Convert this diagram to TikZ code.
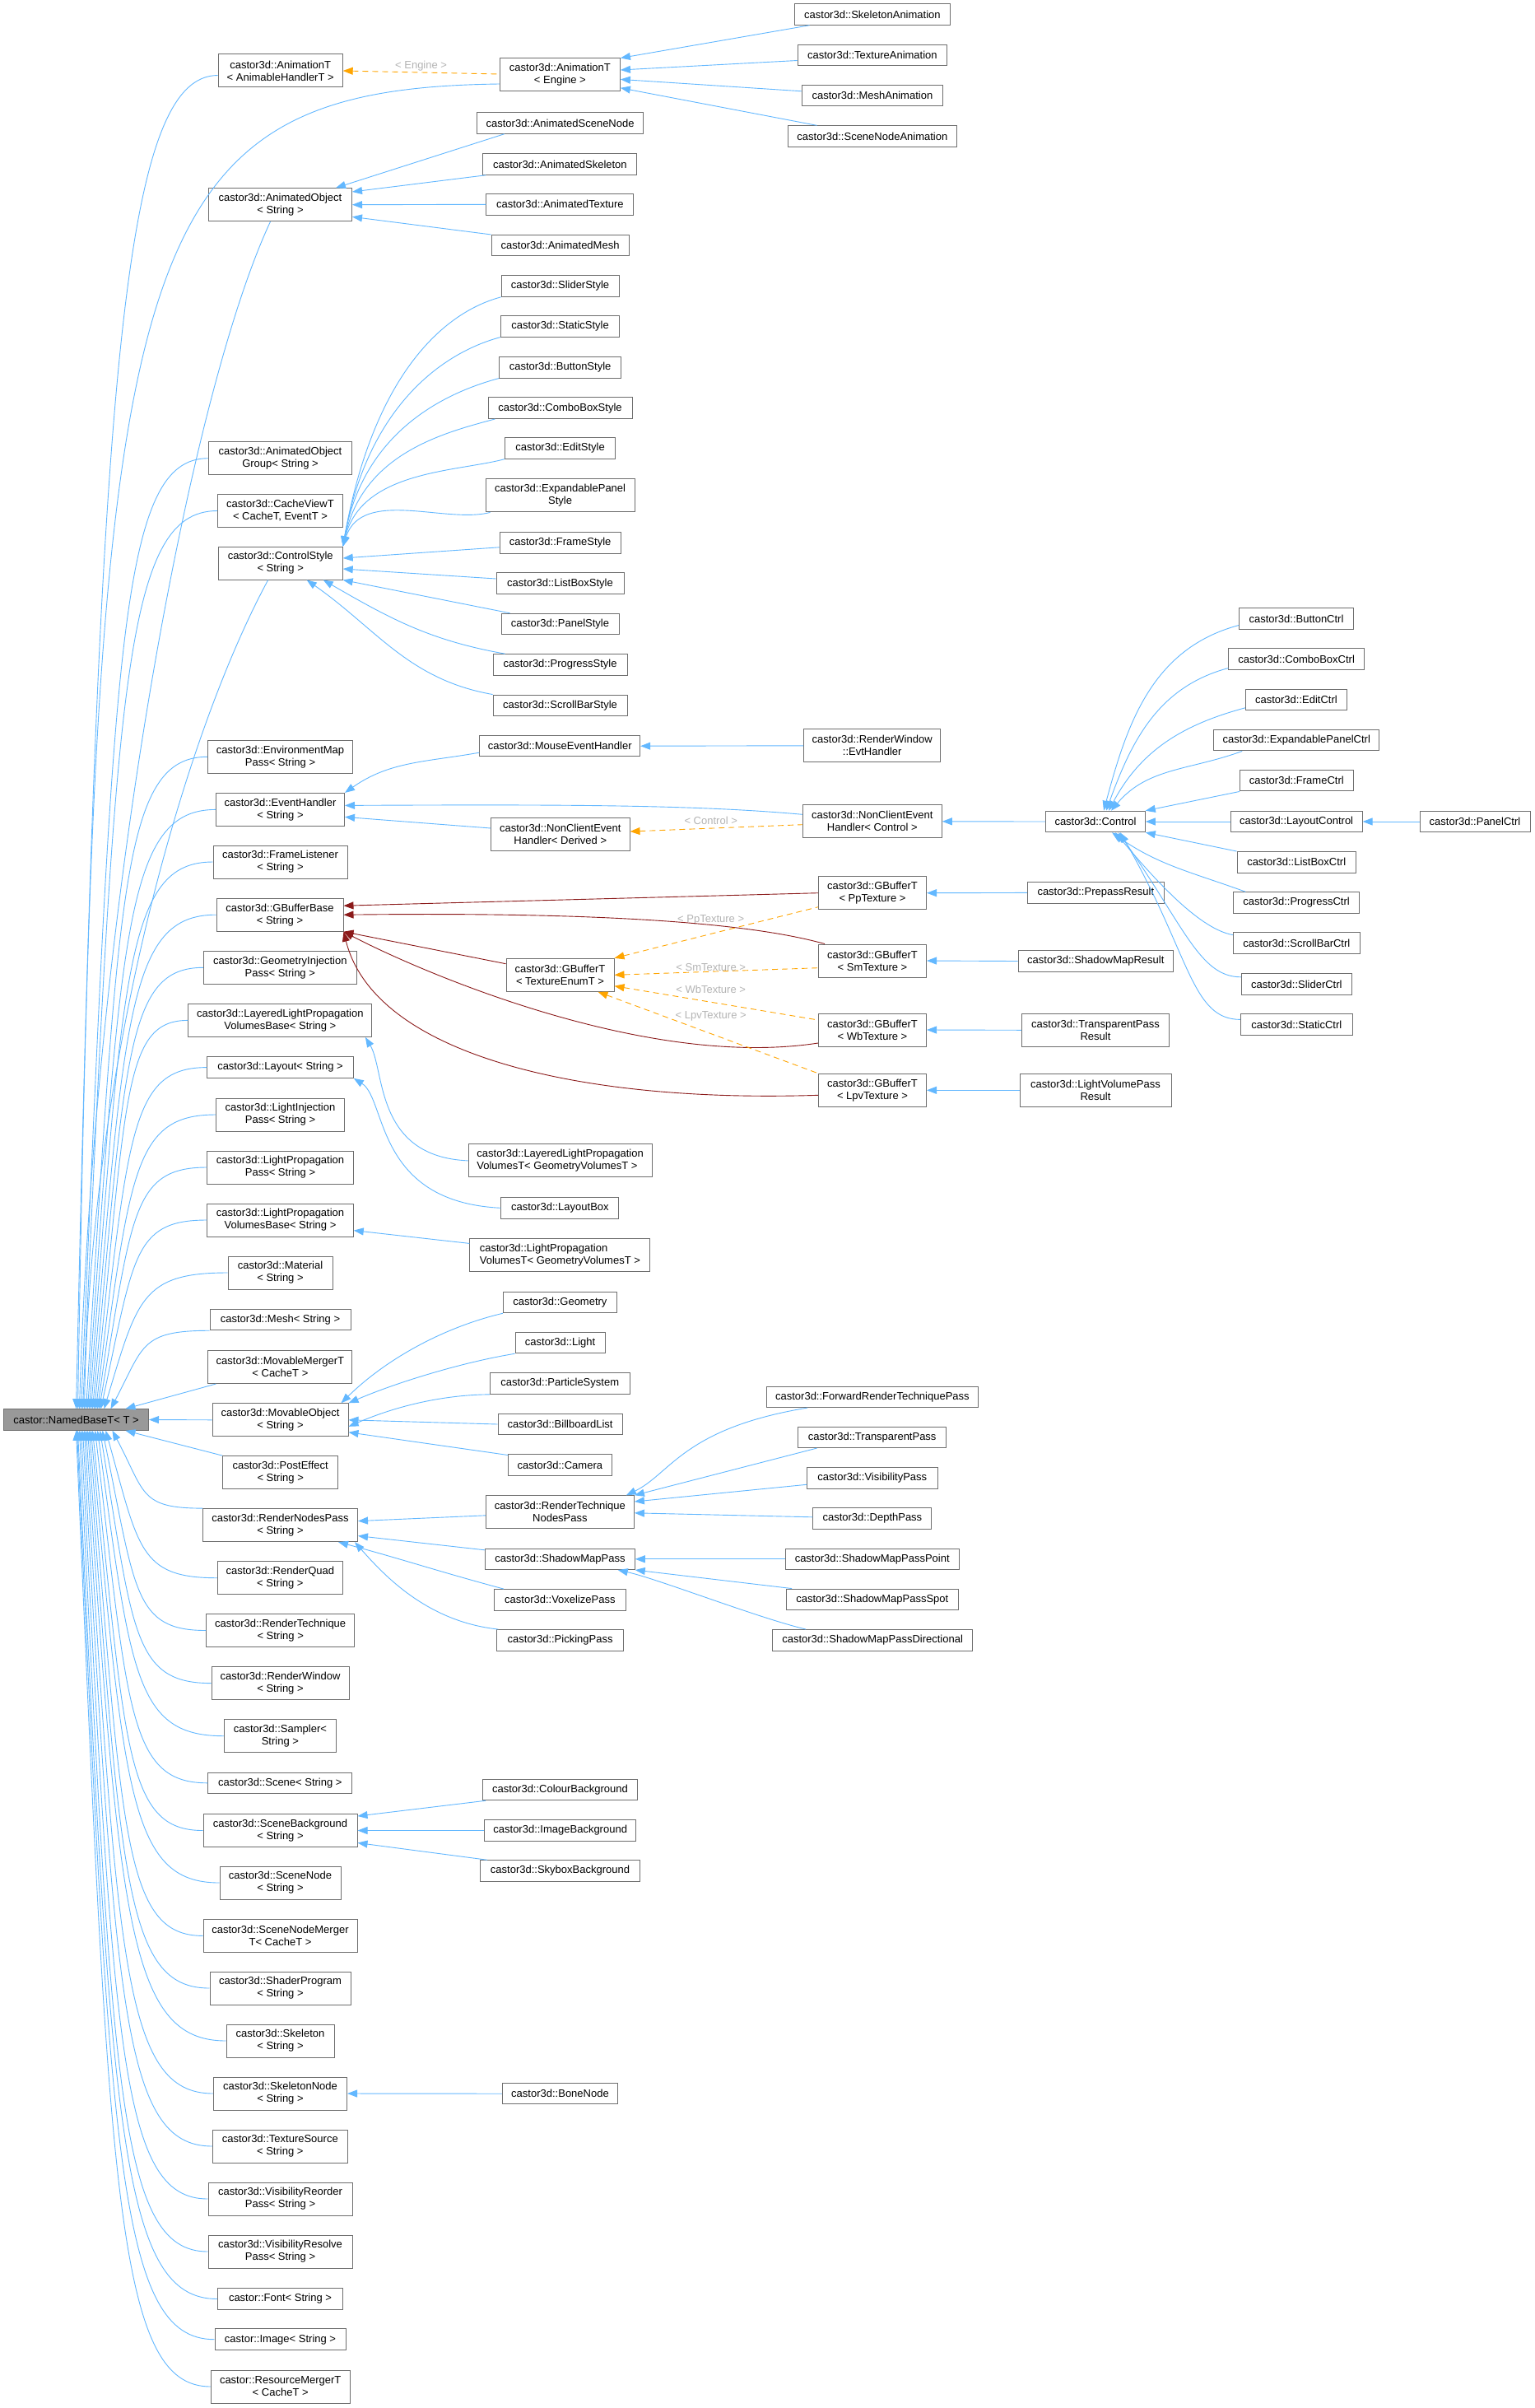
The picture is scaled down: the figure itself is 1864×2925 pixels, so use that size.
\documentclass[tikz,border=0pt]{standalone}
\usepackage{fontspec}
\setmainfont{Liberation Sans}
\usetikzlibrary{arrows.meta,calc}
\definecolor{eblue}{HTML}{63B8FF}
\definecolor{ered}{HTML}{8B1A1A}
\definecolor{eorange}{HTML}{FFA500}
\definecolor{nborder}{HTML}{6E6E6E}
\definecolor{rootfill}{HTML}{999999}
\definecolor{lblgrey}{HTML}{B4B4B4}
\newcommand\nf{\fontsize{13}{15}\selectfont}
\newcommand\redge[3][40]{\draw[inh] (#2) .. controls ($(#2)!0.8!(#2 |- #3)+(#1,0)$) and ($(#2 |- #3)!0.3!(#3)$) .. (#3);}
\begin{document}
\begin{tikzpicture}[x=1pt,y=1pt,
  box/.style={draw=nborder, line width=1pt, fill=white, inner sep=0pt, font=\nf, align=center, minimum height=25.5pt},
  two/.style={minimum height=40pt},
  inh/.style={draw=eblue, line width=0.9pt, {Triangle[length=12pt,width=9pt]}-},
  inr/.style={draw=ered, line width=0.9pt, {Triangle[length=12pt,width=9pt]}-},
  tmpl/.style={draw=eorange, line width=0.9pt, dash pattern=on 7pt off 5pt, {Triangle[length=12pt,width=9pt]}-},
  lbl/.style={text=lblgrey, font=\nf, inner sep=0pt}]
\fill[white] (0,0) rectangle (1864,-2925);
\useasboundingbox (0,0) rectangle (1864,-2925);

% ---------- root ----------
\node[box, fill=rootfill, minimum width=176pt] (root) at (92.5,-1724.5) {castor::NamedBaseT< T >};

% ---------- level 1 ----------
\node[box,two,minimum width=151pt] (aht) at (340.7,-86) {castor3d::AnimationT\\< AnimableHandlerT >};
\node[box,two,minimum width=174pt] (ao) at (340.5,-248.7) {castor3d::AnimatedObject\\< String >};
\node[box,two,minimum width=174pt] (aog) at (340.5,-556.7) {castor3d::AnimatedObject\\Group< String >};
\node[box,two,minimum width=152pt] (cv) at (340.5,-620.5) {castor3d::CacheViewT\\< CacheT, EventT >};
\node[box,two,minimum width=151pt] (cs) at (340.7,-684) {castor3d::ControlStyle\\< String >};
\node[box,two,minimum width=176pt] (emp) at (340.5,-919.3) {castor3d::EnvironmentMap\\Pass< String >};
\node[box,two,minimum width=156pt] (eh) at (340.5,-983.4) {castor3d::EventHandler\\< String >};
\node[box,two,minimum width=163pt] (fl) at (340.5,-1047) {castor3d::FrameListener\\< String >};
\node[box,two,minimum width=154pt] (gbb) at (340,-1111.2) {castor3d::GBufferBase\\< String >};
\node[box,two,minimum width=186pt] (gip) at (340.3,-1175.3) {castor3d::GeometryInjection\\Pass< String >};
\node[box,two,minimum width=223pt] (llpvb) at (340.4,-1239.4) {castor3d::LayeredLightPropagation\\VolumesBase< String >};
\node[box,minimum width=177.5pt] (lay) at (340.5,-1296.6) {castor3d::Layout< String >};
\node[box,two,minimum width=156pt] (lip) at (340.5,-1354) {castor3d::LightInjection\\Pass< String >};
\node[box,two,minimum width=177.5pt] (lpp) at (340.5,-1418) {castor3d::LightPropagation\\Pass< String >};
\node[box,two,minimum width=177.5pt] (lpvb) at (340.5,-1482) {castor3d::LightPropagation\\VolumesBase< String >};
\node[box,two,minimum width=127pt] (mat) at (340.5,-1546) {castor3d::Material\\< String >};
\node[box,minimum width=171pt] (mesh) at (340.5,-1603) {castor3d::Mesh< String >};
\node[box,two,minimum width=175pt] (mm) at (340.4,-1660.5) {castor3d::MovableMergerT\\< CacheT >};
\node[box,two,minimum width=165pt] (mo) at (340.5,-1724.8) {castor3d::MovableObject\\< String >};
\node[box,two,minimum width=140pt] (pe) at (340.7,-1788.6) {castor3d::PostEffect\\< String >};
\node[box,two,minimum width=188pt] (rnp) at (340.5,-1852.6) {castor3d::RenderNodesPass\\< String >};
\node[box,two,minimum width=152pt] (rq) at (340.4,-1916.7) {castor3d::RenderQuad\\< String >};
\node[box,two,minimum width=180pt] (rt) at (340.7,-1980.5) {castor3d::RenderTechnique\\< String >};
\node[box,two,minimum width=167pt] (rw) at (340.5,-2044.6) {castor3d::RenderWindow\\< String >};
\node[box,two,minimum width=136pt] (smp) at (340.4,-2108.7) {castor3d::Sampler<\\String >};
\node[box,minimum width=175pt] (sc) at (340.4,-2165.8) {castor3d::Scene< String >};
\node[box,two,minimum width=187pt] (sb) at (340.5,-2223.5) {castor3d::SceneBackground\\< String >};
\node[box,two,minimum width=147pt] (sn) at (340.5,-2287) {castor3d::SceneNode\\< String >};
\node[box,two,minimum width=187pt] (snm) at (340.5,-2351.4) {castor3d::SceneNodeMerger\\T< CacheT >};
\node[box,two,minimum width=171pt] (sp) at (340.5,-2415) {castor3d::ShaderProgram\\< String >};
\node[box,two,minimum width=131pt] (sk) at (340.5,-2479) {castor3d::Skeleton\\< String >};
\node[box,two,minimum width=162pt] (skn) at (340.5,-2543) {castor3d::SkeletonNode\\< String >};
\node[box,two,minimum width=164pt] (ts) at (340.3,-2607) {castor3d::TextureSource\\< String >};
\node[box,two,minimum width=175pt] (vrp) at (340.5,-2671) {castor3d::VisibilityReorder\\Pass< String >};
\node[box,two,minimum width=175pt] (vsp) at (340.5,-2735) {castor3d::VisibilityResolve\\Pass< String >};
\node[box,minimum width=152pt] (font) at (340.5,-2792.5) {castor::Font< String >};
\node[box,minimum width=159pt] (img) at (340.5,-2841.7) {castor::Image< String >};
\node[box,two,minimum width=168.6pt] (rm) at (340.7,-2899) {castor::ResourceMergerT\\< CacheT >};

% ---------- level 2 ----------
\node[box,two,minimum width=146pt] (ae) at (680.4,-91) {castor3d::AnimationT\\< Engine >};
\node[box,minimum width=202.7pt] (asn) at (680.6,-149.5) {castor3d::AnimatedSceneNode};
\node[box,minimum width=187pt] (ask) at (680.4,-199.5) {castor3d::AnimatedSkeleton};
\node[box,minimum width=179pt] (atx) at (680.4,-248.3) {castor3d::AnimatedTexture};
\node[box,minimum width=167pt] (am) at (680.6,-298.2) {castor3d::AnimatedMesh};
\node[box,minimum width=143pt] (slst) at (680.6,-347.6) {castor3d::SliderStyle};
\node[box,minimum width=144.6pt] (stst) at (680.6,-396.4) {castor3d::StaticStyle};
\node[box,minimum width=148pt] (btst) at (680.6,-446.3) {castor3d::ButtonStyle};
\node[box,minimum width=175pt] (cbst) at (680.5,-495.7) {castor3d::ComboBoxStyle};
\node[box,minimum width=134pt] (edst) at (680.6,-544.4) {castor3d::EditStyle};
\node[box,two,minimum width=181pt] (epst) at (680.6,-601.9) {castor3d::ExpandablePanel\\Style};
\node[box,minimum width=147pt] (frst) at (680.6,-659.3) {castor3d::FrameStyle};
\node[box,minimum width=155pt] (lbst) at (680.5,-708.7) {castor3d::ListBoxStyle};
\node[box,minimum width=143pt] (pnst) at (680.5,-758) {castor3d::PanelStyle};
\node[box,minimum width=163pt] (prst) at (680.6,-807.4) {castor3d::ProgressStyle};
\node[box,minimum width=163pt] (sbst) at (680.6,-856.8) {castor3d::ScrollBarStyle};
\node[box,minimum width=195pt] (meh) at (680.2,-906.2) {castor3d::MouseEventHandler};
\node[box,two,minimum width=168.5pt] (ncd) at (680.8,-1013.8) {castor3d::NonClientEvent\\Handler< Derived >};
\node[box,two,minimum width=131pt] (gbt) at (680.5,-1184.3) {castor3d::GBufferT\\< TextureEnumT >};
\node[box,two,minimum width=223pt,align=left] (llpvt) at (680.6,-1409.9) {castor3d::LayeredLightPropagation\\VolumesT< GeometryVolumesT >};
\node[box,minimum width=143pt] (lbox) at (680.4,-1467.3) {castor3d::LayoutBox};
\node[box,two,minimum width=219pt,align=left] (lpvt) at (680.4,-1524.4) {castor3d::LightPropagation\\VolumesT< GeometryVolumesT >};
\node[box,minimum width=138pt] (geo) at (680.4,-1582) {castor3d::Geometry};
\node[box,minimum width=109pt] (lgt) at (680.6,-1631) {castor3d::Light};
\node[box,minimum width=169.6pt] (ps) at (680.2,-1680.6) {castor3d::ParticleSystem};
\node[box,minimum width=151pt] (bl) at (680.6,-1730) {castor3d::BillboardList};
\node[box,minimum width=125.4pt] (cam) at (680.4,-1779.5) {castor3d::Camera};
\node[box,two,minimum width=180pt] (rtnp) at (680.4,-1836.8) {castor3d::RenderTechnique\\NodesPass};
\node[box,minimum width=181.7pt] (smp2) at (680.4,-1893.8) {castor3d::ShadowMapPass};
\node[box,minimum width=160pt] (vxp) at (680.4,-1943.3) {castor3d::VoxelizePass};
\node[box,minimum width=153.6pt] (pkp) at (680.6,-1992.3) {castor3d::PickingPass};
\node[box,minimum width=187.4pt] (cbg) at (680.5,-2174) {castor3d::ColourBackground};
\node[box,minimum width=184pt] (ibg) at (680.7,-2223.5) {castor3d::ImageBackground};
\node[box,minimum width=193.8pt] (sbg) at (680.5,-2272.5) {castor3d::SkyboxBackground};
\node[box,minimum width=140.5pt] (bone) at (680.5,-2543.2) {castor3d::BoneNode};

% ---------- level 3 ----------
\node[box,minimum width=189.7pt] (skan) at (1059.9,-17.5) {castor3d::SkeletonAnimation};
\node[box,minimum width=181.7pt] (txan) at (1059.9,-67.2) {castor3d::TextureAnimation};
\node[box,minimum width=171pt] (mean) at (1059.9,-116.2) {castor3d::MeshAnimation};
\node[box,minimum width=205.8pt] (snan) at (1059.9,-165.6) {castor3d::SceneNodeAnimation};
\node[box,two,minimum width=166pt] (rweh) at (1059.7,-905.8) {castor3d::RenderWindow\\::EvtHandler};
\node[box,two,minimum width=169pt] (ncc) at (1059.8,-997.8) {castor3d::NonClientEvent\\Handler< Control >};
\node[box,two,minimum width=131pt] (gpp) at (1060,-1084.7) {castor3d::GBufferT\\< PpTexture >};
\node[box,two,minimum width=131pt] (gsm) at (1060,-1167) {castor3d::GBufferT\\< SmTexture >};
\node[box,two,minimum width=131pt] (gwb) at (1060,-1251) {castor3d::GBufferT\\< WbTexture >};
\node[box,two,minimum width=131pt] (glpv) at (1060,-1324.3) {castor3d::GBufferT\\< LpvTexture >};
\node[box,minimum width=256.7pt] (frtp) at (1059.9,-1696.8) {castor3d::ForwardRenderTechniquePass};
\node[box,minimum width=179.5pt] (trp) at (1059.7,-1745.8) {castor3d::TransparentPass};
\node[box,minimum width=158.5pt] (vip) at (1059.8,-1795.3) {castor3d::VisibilityPass};
\node[box,minimum width=144pt] (dep) at (1059.9,-1844.3) {castor3d::DepthPass};
\node[box,minimum width=210.7pt] (smpp) at (1059.7,-1893.8) {castor3d::ShadowMapPassPoint};
\node[box,minimum width=208.5pt] (smps) at (1059.8,-1942.8) {castor3d::ShadowMapPassSpot};
\node[box,minimum width=243pt] (smpd) at (1060.1,-1992.3) {castor3d::ShadowMapPassDirectional};

% ---------- level 4 ----------
\node[box,minimum width=120.6pt] (ctl) at (1331,-998) {castor3d::Control};
\node[box,minimum width=165.7pt] (ppr) at (1331.3,-1084.4) {castor3d::PrepassResult};
\node[box,minimum width=188.5pt] (smr) at (1331.3,-1167.5) {castor3d::ShadowMapResult};
\node[box,two,minimum width=179pt] (tpr) at (1331,-1251.3) {castor3d::TransparentPass\\Result};
\node[box,two,minimum width=184pt] (lvr) at (1331,-1324.3) {castor3d::LightVolumePass\\Result};

% ---------- level 5 ----------
\node[box,minimum width=139pt] (btc) at (1575,-751.5) {castor3d::ButtonCtrl};
\node[box,minimum width=164.4pt] (cbc) at (1575.1,-800.5) {castor3d::ComboBoxCtrl};
\node[box,minimum width=123pt] (edc) at (1574.9,-849.8) {castor3d::EditCtrl};
\node[box,minimum width=201.3pt] (epc) at (1575.3,-899.2) {castor3d::ExpandablePanelCtrl};
\node[box,minimum width=137.5pt] (frc) at (1575.3,-948.2) {castor3d::FrameCtrl};
\node[box,minimum width=160pt] (lyc) at (1575.1,-998) {castor3d::LayoutControl};
\node[box,minimum width=144.4pt] (lbc) at (1575.2,-1047.3) {castor3d::ListBoxCtrl};
\node[box,minimum width=152.6pt] (prc) at (1575.1,-1096.5) {castor3d::ProgressCtrl};
\node[box,minimum width=154pt] (sbc) at (1575.3,-1145.6) {castor3d::ScrollBarCtrl};
\node[box,minimum width=134pt] (slc) at (1575.3,-1195.4) {castor3d::SliderCtrl};
\node[box,minimum width=135.7pt] (stc) at (1575.3,-1244.4) {castor3d::StaticCtrl};
\node[box,minimum width=134pt] (pnc) at (1792,-998) {castor3d::PanelCtrl};

% ---------- labels ----------
\node[lbl] (l-eng) at (511.6,-80.4) {< Engine >};
\node[lbl] (l-ctl) at (863.7,-996.7) {< Control >};
\node[lbl] (l-pp) at (863.7,-1117.3) {< PpTexture >};
\node[lbl] (l-sm) at (863.7,-1174.7) {< SmTexture >};
\node[lbl] (l-wb) at (863.7,-1201.7) {< WbTexture >};
\node[lbl] (l-lpv) at (863.7,-1234.3) {< LpvTexture >};

% ---------- root edges ----------
\foreach \n/\o in {aht/0,ae/2,ao/4,aog/6,cv/8,cs/10,emp/12,eh/14,fl/16,gbb/18,gip/20,llpvb/22,lay/24,lip/26,lpp/28,lpvb/30,mat/34,mesh/42,mm/60}
  {\coordinate (r-\n) at ([xshift=\o pt]root.north);}
\foreach \n/\o in {pe/60,rnp/44,rq/36,rt/32,rw/29,smp/26,sc/23,sb/20,sn/18,snm/16,sp/14,sk/12,skn/10,ts/8,vrp/6,vsp/4,font/2,img/1,rm/0}
  {\coordinate (s-\n) at ([xshift=\o pt]root.south);}

\draw[inh] (r-aht) .. controls (120,-450) and (150,-92) .. ([yshift=-5.5pt]aht.west);
\draw[inh] (r-ae) .. controls (118,-300) and (150,-108) .. ([yshift=-11pt]ae.west);
\draw[inh] (r-ao) .. controls (115,-1100) and (230,-480) .. ([xshift=-12pt]ao.south);
\draw[inh] (r-cs) .. controls (110,-1300) and (220,-900) .. ([xshift=-15pt]cs.south);
\foreach \n in {aog,cv,emp,eh,fl,gbb,gip,llpvb,lay,lip,lpp,lpvb,mat} {\redge{r-\n}{\n.west}}
\redge{r-mesh}{mesh.south west}
\draw[inh] (r-mm) -- ([xshift=10pt]mm.south west);
\draw[inh] (root.east) -- (mo.west);
\draw[inh] (s-pe) -- (pe.north west);
\redge{s-rnp}{rnp.north west}
\foreach \n in {rq,rt,rw,smp,sc,sb,sn,snm,sp,sk,skn,ts,vrp,vsp,font,img,rm} {\redge{s-\n}{\n.west}}

% ---------- AnimationT ----------
\draw[tmpl] (aht.east) -- ([yshift=1pt]ae.west);
\draw[inh] (ae.north east) -- ([xshift=19pt]skan.south west);
\draw[inh] ([yshift=6pt]ae.east) -- ([yshift=-6.3pt]txan.west);
\draw[inh] ([yshift=-5.4pt]ae.east) -- ([yshift=5.4pt]mean.west);
\draw[inh] ([yshift=-15.8pt]ae.east) -- ([xshift=36pt]snan.north west);

% ---------- AnimatedObject ----------
\draw[inh] ([xshift=-20pt]ao.north east) -- ([xshift=34pt]asn.south west);
\draw[inh] ([yshift=15.7pt]ao.east) -- ([xshift=4pt]ask.south west);
\draw[inh] (ao.east) -- (atx.west);
\draw[inh] ([yshift=-14.7pt]ao.east) -- (am.north west);

% ---------- ControlStyle ----------
\draw[inh] (cs.north east) to[out=80,in=195,out distance=200pt,in distance=80pt] (slst.south west);
\draw[inh] (cs.north east) to[out=80,in=195,out distance=170pt,in distance=75pt] (stst.south west);
\draw[inh] (cs.north east) to[out=80,in=195,out distance=140pt,in distance=70pt] (btst.south west);
\draw[inh] (cs.north east) to[out=78,in=195,out distance=115pt,in distance=65pt] ([xshift=9pt]cbst.south west);
\draw[inh] (cs.north east) to[out=76,in=195,out distance=95pt,in distance=60pt] (edst.south west);
\draw[inh] (cs.north east) to[out=72,in=195,out distance=75pt,in distance=55pt] ([xshift=6pt]epst.south west);
\draw[inh] ([yshift=6pt]cs.east) -- ([yshift=-5.5pt]frst.west);
\draw[inh] ([yshift=-7pt]cs.east) -- ([yshift=5.7pt]lbst.west);
\draw[inh] (cs.south east) -- ([xshift=11pt]pnst.north west);
\draw[inh] ([xshift=52pt]cs.south) to[out=-30,in=170] ([xshift=15pt]prst.north west);
\draw[inh] ([xshift=32pt]cs.south) to[out=-35,in=170] (sbst.north west);

% ---------- EventHandler ----------
\draw[inh] (eh.north east) to[out=35,in=190] ([yshift=-8pt]meh.west);
\draw[inh] ([yshift=5pt]eh.east) .. controls (700,-977) and (850,-978) .. ([yshift=8.5pt]ncc.west);
\draw[inh] ([yshift=-9pt]eh.east) -- ([yshift=7.8pt]ncd.west);
\draw[inh] (meh.east) -- (rweh.west);
\draw[tmpl] ([yshift=3.8pt]ncd.east) -- ([yshift=-3.9pt]ncc.west);
\draw[inh] (ncc.east) -- (ctl.west);

% ---------- Control ----------
\draw[inh] ([xshift=10pt]ctl.north) to[out=75,in=195] ([yshift=-8pt]btc.west);
\draw[inh] ([xshift=13pt]ctl.north) to[out=70,in=195] ([yshift=-11pt]cbc.west);
\draw[inh] ([xshift=16pt]ctl.north) to[out=62,in=195] ([yshift=-10pt]edc.west);
\draw[inh] ([xshift=19pt]ctl.north) to[out=50,in=200] ([xshift=35pt]epc.south west);
\draw[inh] (ctl.north east) -- (frc.south west);
\draw[inh] (ctl.east) -- (lyc.west);
\draw[inh] (lyc.east) -- (pnc.west);
\draw[inh] (ctl.south east) -- (lbc.north west);
\draw[inh] ([xshift=20pt]ctl.south) to[out=-35,in=160] ([xshift=15pt]prc.north west);
\draw[inh] ([xshift=24pt]ctl.south) to[out=-50,in=170,out distance=80pt,in distance=40pt] ([yshift=10pt]sbc.west);
\draw[inh] ([xshift=28pt]ctl.south) to[out=-55,in=180,out distance=140pt,in distance=50pt] ([yshift=8.6pt]slc.west);
\draw[inh] ([xshift=30pt]ctl.south) to[out=-60,in=180,out distance=170pt,in distance=60pt] ([yshift=6pt]stc.west);

% ---------- GBuffer ----------
\draw[inr] ([yshift=11pt]gbb.east) -- (gpp.west);
\draw[inr] (gbb.east) .. controls (700,-1108) and (900,-1118) .. ([xshift=8pt]gsm.north west);
\draw[inr] (gbb.south east) -- ([yshift=13.6pt]gbt.west);
\draw[inr] (gbb.south east) .. controls (500,-1175) and (780,-1300) .. ([yshift=-16pt]gwb.west);
\draw[inr] (gbb.south east) .. controls (455,-1280) and (700,-1340) .. ([yshift=-6pt]glpv.west);
\draw[tmpl] (gbt.north east) -- ([yshift=-17pt]gpp.west);
\draw[tmpl] (gbt.east) -- ([yshift=-8.7pt]gsm.west);
\draw[tmpl] ([yshift=-13.4pt]gbt.east) -- ([yshift=12pt]gwb.west);
\draw[tmpl] ([xshift=-20pt]gbt.south east) -- (glpv.north west);
\draw[inh] (gpp.east) -- (ppr.west);
\draw[inh] (gsm.east) -- (smr.west);
\draw[inh] (gwb.east) -- (tpr.west);
\draw[inh] (glpv.east) -- (lvr.west);

% ---------- LPV / Layout ----------
\draw[inh] ([xshift=-8.5pt]llpvb.south east) .. controls (468,-1300) and (455,-1405) .. (llpvt.west);
\draw[inh] (lay.south east) .. controls (470,-1335) and (455,-1460) .. (lbox.west);
\draw[inh] ([yshift=-12.6pt]lpvb.east) -- ([yshift=14pt]lpvt.west);

% ---------- MovableObject ----------
\draw[inh] ([xshift=-9pt]mo.north east) .. controls (470,-1650) and (540,-1612) .. (geo.south west);
\draw[inh] (mo.north east) .. controls (480,-1680) and (560,-1655) .. (lgt.south west);
\draw[inh] ([yshift=-8pt]mo.east) .. controls (500,-1700) and (560,-1694) .. (ps.south west);
\draw[inh] (mo.east) -- (bl.west);
\draw[inh] ([yshift=-15pt]mo.east) -- ([yshift=12pt]cam.west);

% ---------- RenderNodesPass ----------
\draw[inh] ([yshift=5pt]rnp.east) -- ([yshift=-4pt]rtnp.west);
\draw[inh] ([yshift=-13pt]rnp.east) -- ([yshift=11pt]smp2.west);
\draw[inh] ([xshift=-24pt]rnp.south east) to[out=-15,in=165] ([xshift=12pt]vxp.north west);
\draw[inh] ([xshift=-4pt]rnp.south east) .. controls (468,-1915) and (520,-1970) .. ([xshift=2pt]pkp.north west);
\draw[inh] ([xshift=-10pt]rtnp.north east) .. controls (815,-1790) and (830,-1735) .. ([xshift=50pt]frtp.south west);
\draw[inh] (rtnp.north east) -- ([xshift=23pt]trp.south west);
\draw[inh] ([yshift=12.8pt]rtnp.east) -- ([yshift=-8pt]vip.west);
\draw[inh] ([yshift=-1pt]rtnp.east) -- ([yshift=1.5pt]dep.west);
\draw[inh] (smp2.east) -- (smpp.west);
\draw[inh] (smp2.south east) -- ([xshift=7pt]smps.north west);
\draw[inh] ([xshift=-21pt]smp2.south east) .. controls (800,-1918) and (920,-1965) .. ([xshift=41pt]smpd.north west);

% ---------- SceneBackground / SkeletonNode ----------
\draw[inh] ([yshift=-3pt]sb.north east) -- ([xshift=3.7pt]cbg.south west);
\draw[inh] (sb.east) -- (ibg.west);
\draw[inh] ([yshift=-15pt]sb.east) -- ([xshift=9pt]sbg.north west);
\draw[inh] (skn.east) -- (bone.west);
\end{tikzpicture}
\end{document}
